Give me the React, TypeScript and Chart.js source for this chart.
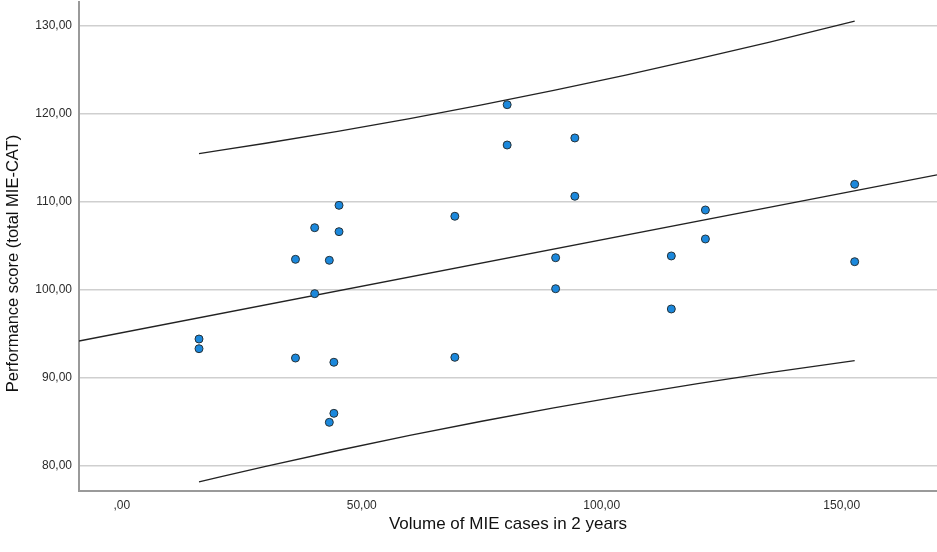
import React, { useEffect, useRef } from "react";
import { Chart, registerables } from "chart.js";

Chart.register(...registerables);

// Scatter data
const volume = [16.1, 16.1, 36.2, 36.2, 40.2, 40.2, 43.25, 44.2, 44.2, 43.25, 45.27, 45.27, 69.4, 69.4, 80.3, 80.3, 90.4, 90.4, 94.4, 94.4, 114.5, 114.5, 121.6, 121.6, 152.7, 152.7];
const score = [94.42, 93.32, 103.47, 92.26, 107.06, 99.57, 103.36, 91.78, 85.98, 84.96, 109.6, 106.61, 108.36, 92.34, 121.03, 116.45, 103.65, 100.13, 117.25, 110.63, 103.85, 97.83, 109.07, 105.78, 111.99, 103.2];

// Fit line (ends at the axis edges)
const fitX = [-8.9, 169.85];
const fitY = [94.19, 113.05];

// Prediction interval curves
const bandX = [16.1, 30, 45, 60, 75, 90, 105, 120, 135, 152.7];
const bandUpper = [115.47, 116.65, 118.0, 119.45, 121.0, 122.65, 124.39, 126.22, 128.14, 130.52];
const bandLower = [78.19, 79.95, 81.76, 83.47, 85.08, 86.61, 88.03, 89.36, 90.6, 91.96];

// Axis ticks
const xTicks = [0, 50, 100, 150];
const yTicks = [80, 90, 100, 110, 120, 130];

const xTitle = "Volume of MIE cases in 2 years";
const yTitle = "Performance score (total MIE-CAT)";

const FONT = "'Liberation Sans', Arial, Helvetica, sans-serif";

const fmt = (v: number) => (v === 0 ? ",00" : v.toFixed(2).replace(".", ","));

// Y-axis title drawn slightly below the plot centre, as in the original
const yTitlePlugin = {
  id: "yTitle",
  afterDraw(chart: any) {
    const { ctx, chartArea } = chart;
    const cy = (chartArea.top + chartArea.bottom) / 2 + 17;
    ctx.save();
    ctx.translate(13, cy);
    ctx.rotate(-Math.PI / 2);
    ctx.fillStyle = "#111111";
    ctx.font = `16.5px ${FONT}`;
    ctx.textAlign = "center";
    ctx.textBaseline = "middle";
    ctx.fillText(yTitle, 0, 0);
    ctx.restore();
  },
};

export default function App() {
  const ref = useRef<HTMLCanvasElement | null>(null);

  useEffect(() => {
    if (!ref.current) return;
    const toPts = (xs: number[], ys: number[]) => xs.map((x, i) => ({ x, y: ys[i] }));
    const lineStyle = {
      showLine: true,
      pointRadius: 0,
      pointHoverRadius: 0,
      borderColor: "#222222",
      borderWidth: 1.3,
      backgroundColor: "transparent",
      fill: false,
    };
    const chart = new Chart(ref.current, {
      type: "scatter",
      data: {
        datasets: [
          {
            label: "points",
            data: toPts(volume, score),
            backgroundColor: "#1b88dc",
            borderColor: "#263238",
            borderWidth: 1,
            pointRadius: 4,
            order: 0,
          },
          { label: "fit", data: toPts(fitX, fitY), ...lineStyle, order: 1 },
          { label: "upper", data: toPts(bandX, bandUpper), ...lineStyle, cubicInterpolationMode: "monotone", order: 1 },
          { label: "lower", data: toPts(bandX, bandLower), ...lineStyle, cubicInterpolationMode: "monotone", order: 1 },
        ] as any,
      },
      plugins: [yTitlePlugin],
      options: {
        responsive: false,
        animation: false,
        events: [],
        layout: { autoPadding: false, padding: { top: 2, right: 0, bottom: 0, left: 0 } },
        plugins: { legend: { display: false }, tooltip: { enabled: false } },
        scales: {
          x: {
            type: "linear",
            min: -8.9,
            max: 169.85,
            afterBuildTicks: (s: any) => {
              s.ticks = xTicks.map((v) => ({ value: v }));
            },
            afterFit: (s: any) => {
              s.height = 61;
              s.paddingLeft = 0;
              s.paddingRight = 0;
            },
            grid: { display: false, drawTicks: false },
            border: { display: true, color: "#9a9a9a", width: 2 },
            ticks: {
              padding: 7,
              color: "#2b2b2b",
              font: { family: FONT, size: 12 },
              maxRotation: 0,
              autoSkip: false,
              callback: (v: any) => fmt(Number(v)),
            },
            title: {
              display: true,
              text: xTitle,
              color: "#111111",
              font: { family: FONT, size: 17 },
              padding: { top: 0, bottom: 17 },
            },
          },
          y: {
            type: "linear",
            min: 77.16,
            max: 132.69,
            afterBuildTicks: (s: any) => {
              s.ticks = yTicks.map((v) => ({ value: v }));
            },
            afterFit: (s: any) => {
              s.width = 79;
              s.paddingTop = 0;
              s.paddingBottom = 0;
            },
            grid: { display: true, drawTicks: false, color: "#cfcfcf", lineWidth: 1.5 },
            border: { display: true, color: "#9a9a9a", width: 2 },
            ticks: {
              padding: 7,
              color: "#2b2b2b",
              font: { family: FONT, size: 12 },
              autoSkip: false,
              callback: (v: any) => fmt(Number(v)),
            },
            title: { display: false, text: yTitle },
          },
        },
      } as any,
    });
    return () => chart.destroy();
  }, []);

  return (
    <div style={{ position: "absolute", left: 0, top: 0, width: 937, height: 552, background: "#ffffff" }}>
      <canvas ref={ref} width={937} height={552} style={{ display: "block", width: 937, height: 552 }} />
    </div>
  );
}
